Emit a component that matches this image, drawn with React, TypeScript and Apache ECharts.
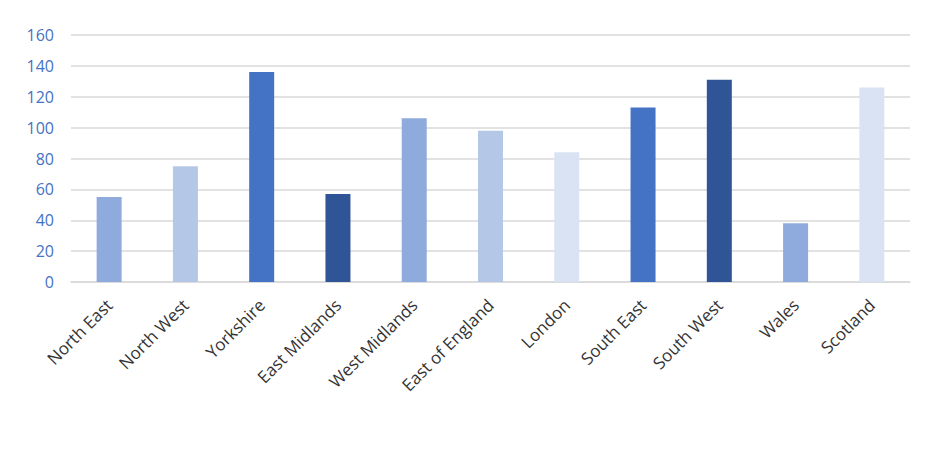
import React, { useEffect, useRef } from "react";
import * as echarts from "echarts";

const regions = [
  "North East",
  "North West",
  "Yorkshire",
  "East Midlands",
  "West Midlands",
  "East of England",
  "London",
  "South East",
  "South West",
  "Wales",
  "Scotland",
];
const values = [55, 75, 136, 57, 106, 98, 84, 113, 131, 38, 126];
const yTicks = [0, 20, 40, 60, 80, 100, 120, 140, 160];

const barColors = [
  "#8FAADC",
  "#B4C7E7",
  "#4472C4",
  "#2F5597",
  "#8FAADC",
  "#B4C7E7",
  "#DAE3F3",
  "#4472C4",
  "#2F5597",
  "#8FAADC",
  "#DAE3F3",
];

export default function App() {
  const ref = useRef<HTMLDivElement>(null);
  useEffect(() => {
    document.body.style.margin = "0";
    if (!ref.current) return;
    const chart = echarts.init(ref.current, null, { renderer: "svg" });
    chart.setOption({
      animation: false,
      backgroundColor: "#ffffff",
      grid: { left: 71, right: 29, top: 35, bottom: 174, containLabel: false },
      xAxis: {
        type: "category",
        data: regions,
        axisTick: { show: false },
        axisLine: { lineStyle: { color: "#d9d9d9", width: 1.5 } },
        axisLabel: {
          rotate: 45,
          interval: 0,
          margin: 20,
          color: "#333333",
          fontFamily: "Open Sans",
          fontSize: 17,
        },
      },
      yAxis: {
        type: "value",
        min: yTicks[0],
        max: yTicks[yTicks.length - 1],
        interval: yTicks[1] - yTicks[0],
        axisLine: { show: false },
        axisTick: { show: false },
        splitLine: { lineStyle: { color: "#d9d9d9", width: 1.5 } },
        axisLabel: {
          margin: 17,
          color: "#4472C4",
          fontFamily: "Open Sans",
          fontSize: 16,
        },
      },
      series: [
        {
          type: "bar",
          barWidth: 25,
          data: values.map((v, i) => ({
            value: v,
            itemStyle: { color: barColors[i] },
          })),
        },
      ],
    });
    return () => chart.dispose();
  }, []);
  return <div ref={ref} style={{ width: 939, height: 456 }} />;
}
